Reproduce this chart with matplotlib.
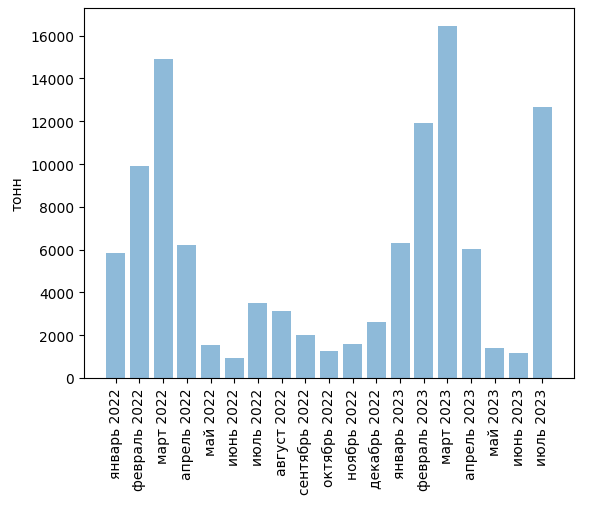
import matplotlib
matplotlib.use('Agg')
import matplotlib.pyplot as plt

# Месяцы и объёмы (тонн)
months = ['январь 2022', 'февраль 2022', 'март 2022', 'апрель 2022', 'май 2022', 'июнь 2022',
          'июль 2022', 'август 2022', 'сентябрь 2022', 'октябрь 2022', 'ноябрь 2022', 'декабрь 2022',
          'январь 2023', 'февраль 2023', 'март 2023', 'апрель 2023', 'май 2023', 'июнь 2023', 'июль 2023']
values = [5850, 9920, 14920, 6220, 1540, 940, 3510, 3130, 2010, 1260, 1590, 2620,
          6320, 11930, 16470, 6030, 1400, 1170, 12680]

fig = plt.figure(figsize=(5.89, 5.06), dpi=100)
ax = fig.add_axes([84/589, 1 - 379/506, 490/589, 370/506])

ax.bar(months, values, alpha=0.5)
ax.set_ylabel('тонн')
ax.tick_params(axis='x', rotation=90)

fig.savefig('out.png', dpi=100)
